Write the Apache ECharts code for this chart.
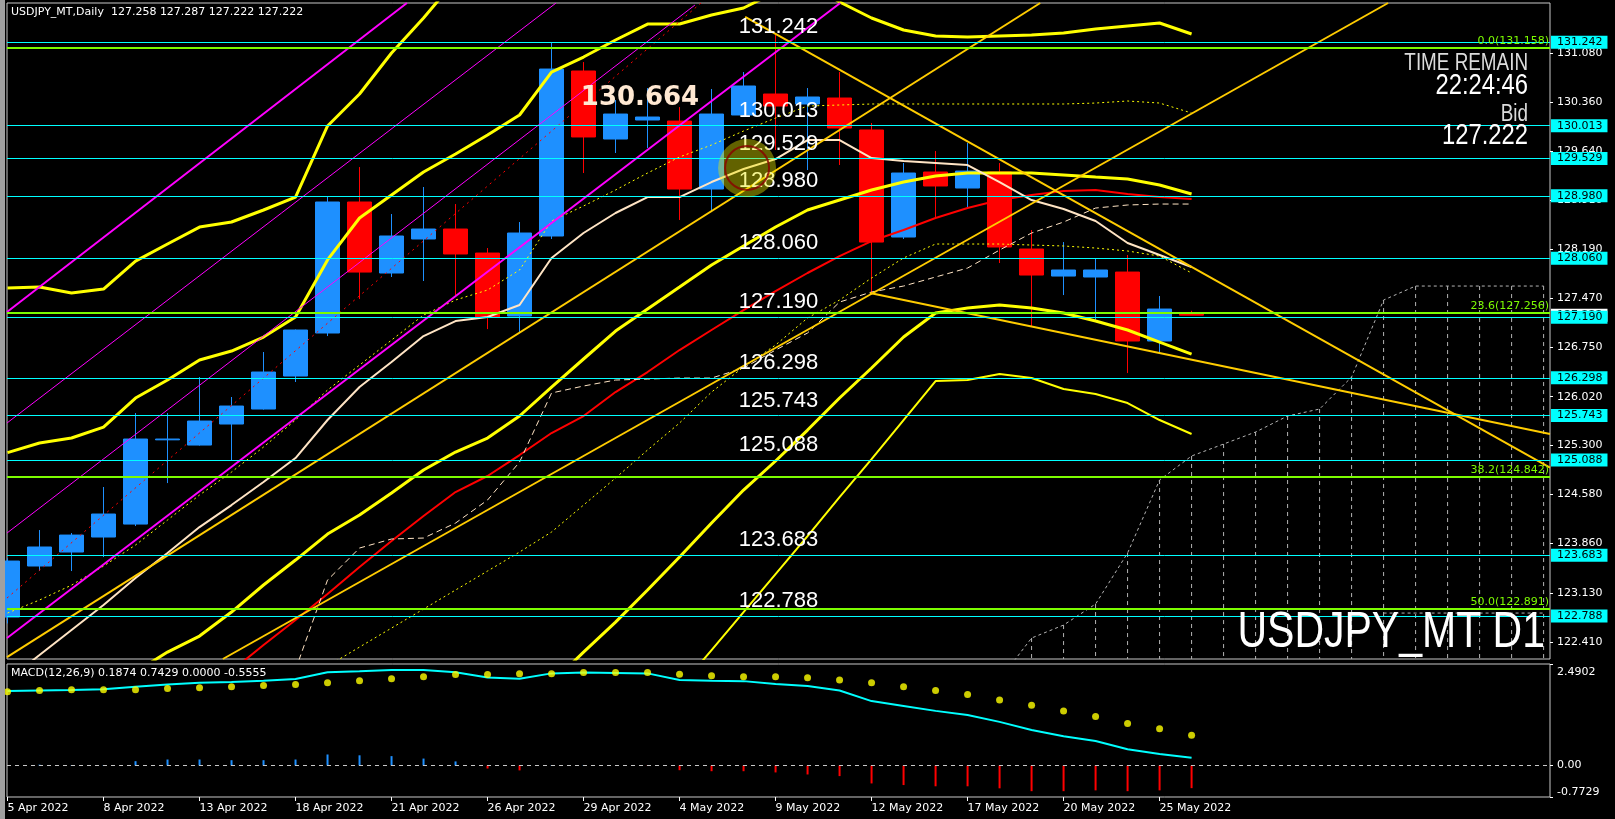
<!DOCTYPE html>
<html><head><meta charset="utf-8">
<script src="https://cdn.jsdelivr.net/npm/echarts@6/dist/echarts.min.js"></script>
<style>html,body{margin:0;padding:0;background:#000;overflow:hidden}#c{width:1615px;height:819px}</style>
</head><body><div id="c"></div>
<script>
// ---------- data ----------
const dates = ['5 Apr 2022','6 Apr 2022','7 Apr 2022','8 Apr 2022','11 Apr 2022','12 Apr 2022','13 Apr 2022','14 Apr 2022','15 Apr 2022','18 Apr 2022','19 Apr 2022','20 Apr 2022','21 Apr 2022','22 Apr 2022','25 Apr 2022','26 Apr 2022','27 Apr 2022','28 Apr 2022','29 Apr 2022','2 May 2022','3 May 2022','4 May 2022','5 May 2022','6 May 2022','9 May 2022','10 May 2022','11 May 2022','12 May 2022','13 May 2022','16 May 2022','17 May 2022','18 May 2022','19 May 2022','20 May 2022','23 May 2022','24 May 2022','25 May 2022','26 May 2022'];
const dateTickBars = [0,3,6,9,12,15,18,21,24,27,30,33,36];

const openP = [122.774,123.526,123.732,123.953,124.144,125.385,125.308,125.618,125.839,126.325,
 126.959,128.889,127.843,128.344,128.491,128.137,127.209,128.388,130.819,129.817,
 130.097,130.082,129.080,130.171,130.480,130.333,130.421,129.950,128.373,129.331,
 129.095,129.331,128.196,127.798,127.784,127.857,126.841,127.258];
const closeP = [123.599,123.806,123.982,124.292,125.397,125.397,125.662,125.883,126.384,127.003,
 128.889,127.857,128.388,128.491,128.123,127.194,128.432,130.848,129.847,130.185,
 130.141,129.080,130.185,130.598,130.303,130.436,129.979,128.299,129.316,129.125,
 129.345,128.226,127.813,127.887,127.887,126.841,127.312,127.222];
const lowP = [122.680,123.452,123.452,123.658,124.115,124.748,125.300,125.087,125.830,126.237,
 126.914,127.459,127.784,127.725,127.519,127.017,126.959,128.344,129.316,129.611,
 129.684,128.624,128.741,130.150,129.655,129.360,129.434,127.548,128.344,128.668,
 128.815,127.990,127.047,127.518,127.150,126.369,126.664,127.222];
const highP = [123.640,124.056,124.012,124.690,125.780,125.780,126.310,126.016,126.679,127.010,
 128.962,129.404,128.712,129.110,128.859,128.211,128.594,131.231,130.951,130.392,
 130.568,130.288,130.554,130.804,131.349,130.568,130.804,130.053,129.463,129.640,
 129.758,129.463,128.476,128.299,128.064,128.108,127.504,127.287];

const bbMid = [120.343,120.741,121.139,121.507,121.964,122.258,122.494,122.848,123.246,123.614,
 123.997,124.277,124.601,124.940,125.205,125.411,125.736,126.163,126.576,126.988,
 127.312,127.636,127.961,128.241,128.521,128.771,128.918,129.066,129.183,129.272,
 129.316,129.316,129.316,129.287,129.257,129.228,129.139,129.007];
const bbUp2 = [125.196,125.338,125.412,125.573,126.001,126.266,126.561,126.693,126.900,127.194,
 128.036,128.653,128.992,129.331,129.596,129.876,130.171,130.804,131.025,131.276,
 131.511,131.511,131.644,131.747,131.983,132.130,131.836,131.600,131.423,131.335,
 131.320,131.335,131.349,131.379,131.438,131.482,131.526,131.364];
const bbLow2 = [null,null,null,null,null,null,null,null,null,null,null,null,null,null,null,null,null,
 121.80,122.258,122.700,123.172,123.658,124.159,124.645,125.073,125.529,126.001,126.443,126.900,
 127.253,127.327,127.371,127.327,127.253,127.135,127.003,126.826,126.649];
const bbUp3 = [127.622,127.636,127.548,127.607,128.019,128.270,128.520,128.594,128.771,128.962,
 130.009,130.480,131.084,131.600,132.160,null,null,null,null,null,null,null,null,null,null,null,null,
 null,null,null,null,null,null,null,null,null,null,null];
const bbLow3 = [null,null,null,null,null,null,null,null,null,null,null,null,null,null,null,null,null,null,null,null,null,
 121.73,122.288,122.848,123.408,123.967,124.542,125.102,125.677,126.251,126.266,126.355,126.296,
 126.133,126.060,125.927,125.677,125.471];
const redMA = [null,null,null,null,null,null,121.75,121.98,122.362,122.730,123.113,123.511,123.894,
 124.262,124.616,124.852,125.161,125.485,125.736,126.089,126.384,126.708,127.003,127.297,127.577,
 127.843,128.093,128.314,128.476,128.653,128.800,128.918,128.992,129.051,129.066,129.007,128.962,128.933];
const peachMA = [121.846,122.214,122.583,122.951,123.349,123.717,124.100,124.424,124.763,125.117,
 125.677,126.163,126.531,126.914,127.135,127.194,127.371,128.064,128.432,128.727,
 128.962,128.962,129.183,129.375,129.522,129.802,129.802,129.537,129.493,129.463,
 129.434,129.183,128.918,128.786,128.609,128.285,128.108,127.931];
const yDotUp = [122.833,123.025,123.244,123.525,123.835,124.203,124.572,124.910,125.279,125.677,
 126.119,126.487,126.855,127.224,127.445,127.592,127.887,128.609,128.830,129.066,
 129.316,129.552,129.729,129.935,130.126,130.303,130.318,130.333,130.333,130.333,
 130.333,130.333,130.333,130.333,130.347,130.377,130.347,130.200];
const yDotLow = [null,null,null,null,null,null,null,null,null,null,
 122.05,122.332,122.612,122.892,123.172,123.452,123.732,124.027,124.424,124.822,125.235,125.633,
 126.089,126.458,126.782,127.180,127.445,127.769,128.064,128.270,128.270,128.270,128.255,128.241,
 128.211,128.167,128.093,127.843];
const peachDash = [null,null,null,null,null,null,null,null,null,
 122.0,123.319,123.791,123.924,123.938,124.159,124.498,125.058,126.075,126.178,126.266,126.281,
 126.295,126.295,126.443,126.708,126.959,127.415,127.563,127.651,127.784,127.916,128.181,128.432,
 128.594,128.800,128.845,128.859,128.859];

// Ichimoku span (bars 31..48) and lower span (bars 43..48)
const spanAStart = 31;
const spanA = [121.85,122.465,122.656,122.966,123.717,124.793,125.147,125.323,125.500,125.736,
 125.839,126.310,127.445,127.651,127.651,127.651,127.651,127.651];
const spanBStart = 43;
const spanB = [122.833,122.833,122.833,122.833,122.833,122.833];

// trend lines: [bar, price] endpoints
const trendMagentaThick = [[[-0.016,122.465],[26.02,131.821]], [[-0.016,127.268],[12.48,131.821]]];
const trendMagentaThin = [[[-0.016,125.633],[17.14,131.821]], [[-0.016,124.012],[21.48,131.791]]];
const trendRedDot = [[-0.016,123.054],[21.67,131.821]];
const trendGold = [
  [[23.05,131.615],[48.2,124.977]],
  [[26.95,127.548],[48.2,125.470]],
  [[-0.016,122.185],[32.27,131.821]],
  [[6.73,122.156],[43.14,131.821]]
];
const circlePoint = [23.11, 129.390];

const cyanLevels = [131.242,130.013,129.529,128.980,128.060,127.190,126.298,125.743,125.088,123.683,122.788];
const fibLevels = [131.158,127.256,124.842,122.891];
const fibNames = ['0.0','23.6','38.2','50.0'];
const bidPrice = 127.222;
const yTickValues = [122.410,123.130,123.860,124.580,125.300,126.020,126.750,127.470,128.190,128.910,129.640,130.360,131.080];

const macdMain = [1.83,1.84,1.85,1.87,1.93,1.99,2.03,2.05,2.08,2.12,2.29,2.31,2.34,2.34,2.29,2.16,2.13,2.26,2.28,2.27,
 2.26,2.10,2.08,2.07,2.00,1.95,1.84,1.58,1.46,1.34,1.24,1.07,0.87,0.72,0.60,0.40,0.28,0.1874];
const macdSignal = [1.81,1.84,1.86,1.86,1.86,1.89,1.91,1.93,1.96,1.99,2.03,2.08,2.13,2.18,2.23,2.23,2.25,2.25,2.28,2.28,
 2.28,2.24,2.20,2.18,2.18,2.15,2.10,2.03,1.93,1.84,1.74,1.61,1.48,1.34,1.20,1.03,0.90,0.7429];
const macdHist = [0.00,0.02,0.01,0.01,0.106,0.147,0.147,0.13,0.13,0.147,0.27,0.25,0.23,0.17,0.10,-0.074,-0.12,0.01,0.01,0.00,
 -0.01,-0.115,-0.14,-0.14,-0.17,-0.22,-0.26,-0.44,-0.48,-0.51,-0.51,-0.56,-0.63,-0.63,-0.61,-0.63,-0.61,-0.5555];
const macdTicks = [2.4902, 0, -0.7729];

// ---------- chart ----------
const X_MIN = -0.016, X_MAX = 48.2, Y_MIN = 122.156, Y_MAX = 131.821;
const UI = "'DejaVu Sans',sans-serif";

const toPairs = (arr, start) => arr.map((v, i) => [i + (start || 0), v == null ? '-' : v]);
const lineS = (data, color, width, type, z) => ({
  type: 'line', xAxisIndex: 0, yAxisIndex: 0, data, showSymbol: false, symbol: 'none',
  lineStyle: { color, width, type: type || 'solid' }, z: z || 3, silent: true, clip: true,
  connectNulls: false
});

const series = [];
series.push({
  type: 'candlestick', xAxisIndex: 0, yAxisIndex: 0, z: 1, barWidth: 24, silent: true,
  data: openP.map((o, i) => [i, o, closeP[i], lowP[i], highP[i]]),
  itemStyle: { color: '#1E90FF', color0: '#FF0000', borderColor: '#1E90FF', borderColor0: '#FF0000', borderWidth: 1 }
});
// Ichimoku cloud verticals
series.push({
  type: 'custom', xAxisIndex: 0, yAxisIndex: 0, z: 1, silent: true,
  data: spanA.slice(1).map((v, k) => [k + spanAStart + 1, v]),
  renderItem: (params, api) => {
    const top = api.coord([api.value(0), api.value(1)]);
    const bot = api.coord([api.value(0), Y_MIN]);
    return { type: 'line', shape: { x1: top[0], y1: top[1], x2: bot[0], y2: bot[1] },
      style: { stroke: '#b4b4b4', lineWidth: 1, lineDash: [4, 4] } };
  }
});
series.push(lineS(toPairs(spanA, spanAStart), '#b4b4b4', 1, [3, 3], 2));
series.push(lineS(toPairs(spanB, spanBStart), '#b4b4b4', 1, [3, 3], 2));
// moving averages / bands
series.push(lineS(toPairs(bbUp3), '#FFFF00', 3));
series.push(lineS(toPairs(bbLow3), '#FFFF00', 2));
series.push(lineS(toPairs(bbUp2), '#FFFF00', 3));
series.push(lineS(toPairs(bbLow2), '#FFFF00', 3));
series.push(lineS(toPairs(bbMid), '#FFFF00', 3));
series.push(lineS(toPairs(redMA), '#FF0000', 2));
series.push(lineS(toPairs(peachMA), '#FFE4C4', 2));
series.push(lineS(toPairs(yDotUp), '#FFFF00', 1, [2, 3]));
series.push(lineS(toPairs(yDotLow), '#FFFF00', 1, [2, 3]));
series.push(lineS(toPairs(peachDash), '#FFE4C4', 1, [6, 4]));
// trend lines
trendMagentaThick.forEach(t => series.push(lineS(t, '#FF00FF', 2, 'solid', 4)));
trendMagentaThin.forEach(t => series.push(lineS(t, '#FF00FF', 1, 'solid', 4)));
series.push(lineS(trendRedDot, '#FF0000', 1, [2, 4], 4));
trendGold.forEach(t => series.push(lineS(t, '#FFCC00', 2, 'solid', 4)));
// horizontal levels
series.push({
  type: 'line', xAxisIndex: 0, yAxisIndex: 0, data: [], z: 5, silent: true,
  markLine: {
    silent: true, symbol: ['none', 'none'], animation: false, precision: 3,
    lineStyle: { color: '#00FFFF', width: 1, type: 'solid' },
    label: { show: true, position: 'insideMiddleTop', distance: 4, color: '#ffffff', fontSize: 22,
      fontFamily: "'Liberation Sans',sans-serif", formatter: p => Number(p.value).toFixed(3) },
    emphasis: { disabled: true },
    data: cyanLevels.map(v => ({ yAxis: v }))
  }
});
series.push({
  type: 'line', xAxisIndex: 0, yAxisIndex: 0, data: [], z: 5, silent: true,
  markLine: {
    silent: true, symbol: ['none', 'none'], animation: false, precision: 3,
    lineStyle: { color: '#7CFC00', width: 2, type: 'solid' },
    label: { show: true, position: 'insideEndTop', distance: 1, color: '#7CFC00', fontSize: 11,
      fontFamily: UI, formatter: p => p.name + '(' + Number(p.value).toFixed(3) + ')' },
    emphasis: { disabled: true },
    data: fibLevels.map((v, i) => ({ yAxis: v, name: fibNames[i] }))
  }
});
// circle marker
series.push({ type: 'scatter', xAxisIndex: 0, yAxisIndex: 0, z: 6, silent: true, symbolSize: 58,
  data: [circlePoint], itemStyle: { color: 'rgba(235,235,0,0.52)' } });
series.push({ type: 'scatter', xAxisIndex: 0, yAxisIndex: 0, z: 7, silent: true, symbolSize: 44,
  data: [circlePoint], itemStyle: { color: 'rgba(0,0,0,0)', borderColor: '#8B0000', borderWidth: 2 } });

// MACD
series.push({ type: 'bar', xAxisIndex: 1, yAxisIndex: 3, barWidth: 2, silent: true,
  data: toPairs(macdHist),
  itemStyle: { color: p => (p.value[1] >= 0 ? '#1E90FF' : '#FF0000') } });
series.push({ type: 'line', xAxisIndex: 1, yAxisIndex: 3, data: toPairs(macdMain), showSymbol: false, symbol: 'none',
  silent: true, lineStyle: { color: '#00FFFF', width: 2 }, z: 4,
  markLine: { silent: true, symbol: ['none', 'none'], animation: false, label: { show: false },
    lineStyle: { color: '#c8c8c8', width: 1, type: [4, 4] }, data: [{ yAxis: 0 }] } });
series.push({ type: 'scatter', xAxisIndex: 1, yAxisIndex: 3, data: toPairs(macdSignal), symbolSize: 7,
  silent: true, itemStyle: { color: '#FFFF00' }, z: 5 });

const narrowText = (x, y, text, size, fill) => ({
  type: 'text', x, y, scaleX: 0.82, z: 100,
  style: { text, fill, font: size + 'px "Liberation Sans"', textAlign: 'right', textVerticalAlign: 'middle' }
});

const option = {
  backgroundColor: '#000', animation: false,
  grid: [
    { left: 7, right: 65, top: 3, height: 656, show: true, borderColor: '#c8c8c8', borderWidth: 1, backgroundColor: '#000' },
    { left: 7, right: 65, top: 664, height: 133, show: true, borderColor: '#c8c8c8', borderWidth: 1, backgroundColor: '#000' }
  ],
  xAxis: [
    { type: 'value', gridIndex: 0, min: X_MIN, max: X_MAX, show: false },
    { type: 'value', gridIndex: 1, min: X_MIN, max: X_MAX, position: 'bottom',
      axisLine: { show: false, onZero: false }, splitLine: { show: false },
      axisTick: { show: true, customValues: dateTickBars, length: 4, lineStyle: { color: '#fff' } },
      axisLabel: { customValues: dateTickBars, formatter: v => dates[Math.round(v)], align: 'left',
        color: '#fff', fontSize: 11, fontFamily: UI, margin: 6 } }
  ],
  yAxis: [
    { type: 'value', gridIndex: 0, position: 'right', min: Y_MIN, max: Y_MAX, z: 3,
      axisLine: { show: false, onZero: false }, splitLine: { show: false },
      axisTick: { show: true, customValues: yTickValues, length: 3, lineStyle: { color: '#fff' } },
      axisLabel: { customValues: yTickValues, formatter: v => v.toFixed(3), color: '#fff', fontSize: 11, fontFamily: UI, margin: 7 } },
    { type: 'value', gridIndex: 0, position: 'right', min: Y_MIN, max: Y_MAX, z: 5,
      axisLine: { show: false, onZero: false }, splitLine: { show: false }, axisTick: { show: false },
      axisLabel: { customValues: cyanLevels, formatter: v => v.toFixed(3), color: '#000', backgroundColor: '#00FFFF',
        padding: [1, 5, 1, 6], margin: 1, fontSize: 11, fontFamily: UI } },
    { type: 'value', gridIndex: 0, position: 'right', min: Y_MIN, max: Y_MAX, z: 4,
      axisLine: { show: false, onZero: false }, splitLine: { show: false }, axisTick: { show: false },
      axisLabel: { customValues: [bidPrice], formatter: v => v.toFixed(3), color: '#000', backgroundColor: '#ffffff',
        padding: [1, 5, 1, 6], margin: 1, fontSize: 11, fontFamily: UI } },
    { type: 'value', gridIndex: 1, position: 'right', min: -0.7729, max: 2.4902,
      axisLine: { show: false, onZero: false }, splitLine: { show: false },
      axisTick: { show: true, customValues: macdTicks, length: 3, lineStyle: { color: '#fff' } },
      axisLabel: { customValues: macdTicks, margin: 7, color: '#fff', fontSize: 11, fontFamily: UI,
        formatter: v => (v > 1 ? '{t|' + v.toFixed(4) + '}' : (v < 0 ? '{b|' + v.toFixed(4) + '}' : '{m|0.00}')),
        rich: {
          t: { padding: [16, 0, 0, 0], color: '#fff', fontSize: 11, fontFamily: UI },
          b: { padding: [0, 0, 10, 0], color: '#fff', fontSize: 11, fontFamily: UI },
          m: { color: '#fff', fontSize: 11, fontFamily: UI }
        } } }
  ],
  series,
  graphic: [
    { type: 'rect', left: 0, top: 0, z: 100, shape: { width: 5, height: 819 }, style: { fill: '#a0a0a0' } },
    { type: 'text', x: 11, y: 7, z: 100, style: { text: 'USDJPY_MT,Daily  127.258 127.287 127.222 127.222', fill: '#fff', font: '11px "DejaVu Sans"', textVerticalAlign: 'top' } },
    { type: 'text', x: 11, y: 668, z: 100, style: { text: 'MACD(12,26,9) 0.1874 0.7429 0.0000 -0.5555', fill: '#fff', font: '11px "DejaVu Sans"', textVerticalAlign: 'top' } },
    { type: 'text', x: 640, y: 98, z: 100, style: { text: '130.664', fill: '#FFE8D2', font: 'bold 26px "DejaVu Sans"', textAlign: 'center', textVerticalAlign: 'middle' } },
    narrowText(1528, 64, 'TIME REMAIN', 23, '#dcdcdc'),
    narrowText(1528, 86, '22:24:46', 29, '#ffffff'),
    narrowText(1528, 115, 'Bid', 23, '#dcdcdc'),
    narrowText(1528, 136, '127.222', 29, '#ffffff'),
    narrowText(1545, 633, 'USDJPY_MT D1', 50, '#ffffff')
  ]
};

const chart = echarts.init(document.getElementById('c'), null, { renderer: 'canvas' });
chart.setOption(option);
</script>
</body></html>
